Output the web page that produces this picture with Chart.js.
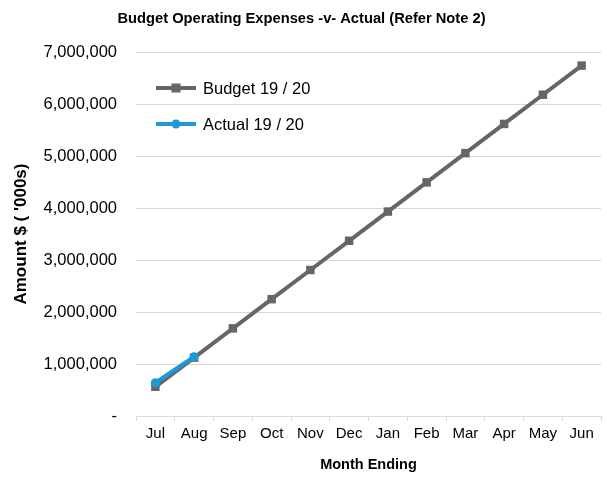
<!DOCTYPE html>
<html lang="en">
<head>
  <meta charset="UTF-8">
  <title>Budget Operating Expenses -v- Actual</title>
  <script src="https://cdn.jsdelivr.net/npm/chart.js"></script>
  <style>
    body {
      margin: 0;
      background: #fff;
    }
    #expensesChart {
      display: block;
    }
  </style>
</head>
<body>
  <canvas id="expensesChart" width="607" height="477"></canvas>
  <script>
    // monthly cumulative figures, financial year 19 / 20
    const months = ['Jul', 'Aug', 'Sep', 'Oct', 'Nov', 'Dec', 'Jan', 'Feb', 'Mar', 'Apr', 'May', 'Jun'];
    const budget = [562000, 1123000, 1685000, 2247000, 2808000, 3370000, 3932000, 4494000, 5055000, 5617000, 6179000, 6740000];
    const actual = [640000, 1140000];

    const FONT = "'Liberation Sans', Arial, sans-serif";
    const GREY = '#646669';
    const BLUE = '#1c9ad6';
    const GRID = '#d9d9d9';

    // legend drawn inside the plot, line + marker samples like a spreadsheet chart
    const insideLegend = {
      id: 'insideLegend',
      afterDatasetsDraw(chart) {
        const ctx = chart.ctx;
        const area = chart.chartArea;
        const items = chart.data.datasets;
        const x0 = area.left + 20;
        const len = 40;
        ctx.save();
        items.forEach((ds, i) => {
          const y = area.top + 36 + i * 36;
          ctx.strokeStyle = ds.borderColor;
          ctx.lineWidth = ds.borderWidth;
          ctx.beginPath();
          ctx.moveTo(x0, y);
          ctx.lineTo(x0 + len, y);
          ctx.stroke();
          ctx.fillStyle = ds.pointBackgroundColor;
          const cx = x0 + len / 2;
          if (ds.pointStyle === 'rect') {
            ctx.fillRect(cx - 4.5, y - 4.5, 9, 9);
          } else {
            ctx.beginPath();
            ctx.arc(cx, y, 4.5, 0, Math.PI * 2);
            ctx.fill();
          }
          ctx.fillStyle = '#000';
          ctx.font = '16.5px ' + FONT;
          ctx.textBaseline = 'middle';
          ctx.fillText(ds.label, x0 + len + 7, y + 1);
        });
        ctx.restore();
      }
    };

    new Chart(document.getElementById('expensesChart').getContext('2d'), {
      type: 'line',
      data: {
        labels: months,
        datasets: [{
          label: 'Budget 19 / 20',
          data: budget,
          borderColor: GREY,
          backgroundColor: GREY,
          pointBackgroundColor: GREY,
          pointBorderColor: GREY,
          borderWidth: 4,
          pointStyle: 'rect',
          pointRadius: 6,
          pointBorderWidth: 0,
          tension: 0,
          order: 1
        }, {
          label: 'Actual 19 / 20',
          data: actual,
          borderColor: BLUE,
          backgroundColor: BLUE,
          pointBackgroundColor: BLUE,
          pointBorderColor: BLUE,
          borderWidth: 4,
          pointStyle: 'circle',
          pointRadius: 4.5,
          pointBorderWidth: 0,
          tension: 0,
          order: 0
        }]
      },
      options: {
        responsive: false,
        animation: false,
        layout: { padding: { left: 0, right: 4, top: 0, bottom: 0 } },
        plugins: {
          legend: { display: false },
          tooltip: { enabled: false },
          title: {
            display: true,
            text: 'Budget Operating Expenses -v- Actual (Refer Note 2)',
            color: '#000',
            font: { family: FONT, size: 14.7, weight: 'bold', lineHeight: 1.2 },
            padding: { top: 10, bottom: 24.4 }
          }
        },
        scales: {
          x: {
            offset: true,
            grid: {
              offset: true,
              drawOnChartArea: false,
              drawTicks: true,
              tickLength: 5,
              color: GRID
            },
            border: { display: true, color: GRID },
            ticks: {
              color: '#000',
              padding: 4,
              maxRotation: 0,
              font: { family: FONT, size: 15 }
            },
            title: {
              display: true,
              text: 'Month Ending',
              color: '#000',
              font: { family: FONT, size: 14.5, weight: 'bold' },
              padding: { top: 4, bottom: 3 }
            },
            afterFit(scale) { scale.height = 61; }
          },
          y: {
            min: 0,
            max: 7000000,
            grid: { color: GRID, drawTicks: false },
            border: { display: false },
            ticks: {
              stepSize: 1000000,
              color: '#000',
              padding: 19,
              font: { family: FONT, size: 16.5 },
              callback: v => v === 0 ? '-' : v.toLocaleString('en-US')
            },
            title: {
              display: true,
              text: "Amount $ ( '000s)",
              color: '#000',
              font: { family: FONT, size: 17, weight: 'bold' },
              padding: { top: 11, bottom: 4 }
            },
            afterFit(scale) { scale.width = 136; }
          }
        }
      },
      plugins: [insideLegend]
    });
  </script>
</body>
</html>
